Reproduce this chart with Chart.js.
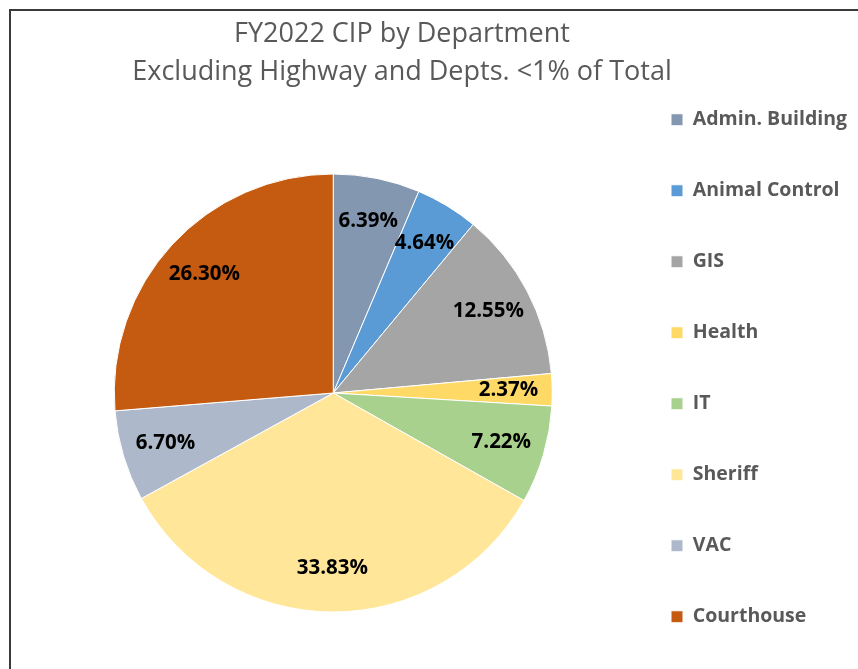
<!DOCTYPE html>
<html lang="en">
<head>
    <meta charset="UTF-8">
    <title>FY2022 CIP by Department</title>
    <script src="https://cdn.jsdelivr.net/npm/chart.js"></script>
    <style>
        body { margin: 0; overflow: hidden; background: #fff; }
        #frame { position: absolute; left: 9px; top: 9px; width: 900px; height: 700px; border: 2px solid #3a3a3a; }
        #title {
            position: absolute; left: 0; top: 13px; width: 804px; text-align: center;
            font-family: "Open Sans", sans-serif; font-size: 27px; line-height: 38px; color: #595959;
        }
        #wrap { position: absolute; left: 0; top: 0; width: 858px; height: 760px; }
    </style>
</head>
<body>
    <div id="frame"></div>
    <div id="wrap"><canvas id="cipChart"></canvas></div>
    <div id="title">FY2022 CIP by Department<br>Excluding Highway and Depts. &lt;1% of Total</div>

    <script>
        // Data (percent of total)
        const departments = ['Admin. Building', 'Animal Control', 'GIS', 'Health', 'IT', 'Sheriff', 'VAC', 'Courthouse'];
        const shares = [6.39, 4.64, 12.55, 2.37, 7.22, 33.83, 6.70, 26.30];
        const sliceColors = ['#8497B0', '#5B9BD5', '#A5A5A5', '#FFD966', '#A9D18E', '#FFE699', '#ADB9CA', '#C55A11'];

        const legendFont = { family: '"Open Sans", sans-serif', size: 19.5, weight: 'bold' };
        const legendPad = 51.5;

        // legend width, so the boxes land at x = 671
        const mctx = document.createElement('canvas').getContext('2d');
        mctx.font = 'bold 19.5px "Open Sans"';
        const textW = Math.max(...departments.map(d => mctx.measureText(d).width));
        const legendW = legendPad + 12 + legendFont.size / 2 + textW + 10;
        const padRight = 858 - (671 - legendPad) - legendW;

        // percent labels inside slices
        const sliceLabels = {
            id: 'sliceLabels',
            afterDatasetsDraw(chart) {
                const ctx = chart.ctx;
                const meta = chart.getDatasetMeta(0);
                ctx.save();
                ctx.font = 'bold 20.5px "Open Sans"';
                ctx.fillStyle = '#000';
                ctx.textAlign = 'center';
                ctx.textBaseline = 'middle';
                meta.data.forEach((arc, i) => {
                    const p = arc.getProps(['x', 'y', 'startAngle', 'endAngle', 'outerRadius'], true);
                    const mid = (p.startAngle + p.endAngle) / 2;
                    const r = p.outerRadius * 0.8;
                    ctx.fillText(shares[i].toFixed(2) + '%', p.x + Math.cos(mid) * r, p.y + Math.sin(mid) * r);
                });
                ctx.restore();
            }
        };

        const ctx = document.getElementById('cipChart').getContext('2d');
        const cipChart = new Chart(ctx, {
            type: 'pie',
            data: {
                labels: departments,
                datasets: [{
                    data: shares,
                    backgroundColor: sliceColors,
                    borderColor: '#ffffff',
                    borderWidth: 1,
                    radius: 219
                }]
            },
            options: {
                responsive: true,
                maintainAspectRatio: false,
                animation: false,
                layout: { padding: { left: 47, right: padRight, top: 58.5, bottom: 32.5 } },
                plugins: {
                    tooltip: { enabled: false },
                    legend: {
                        position: 'right',
                        align: 'start',
                        labels: {
                            boxWidth: 12,
                            boxHeight: 12,
                            padding: legendPad,
                            color: '#595959',
                            font: legendFont
                        }
                    }
                }
            },
            plugins: [sliceLabels]
        });
    </script>
</body>
</html>
